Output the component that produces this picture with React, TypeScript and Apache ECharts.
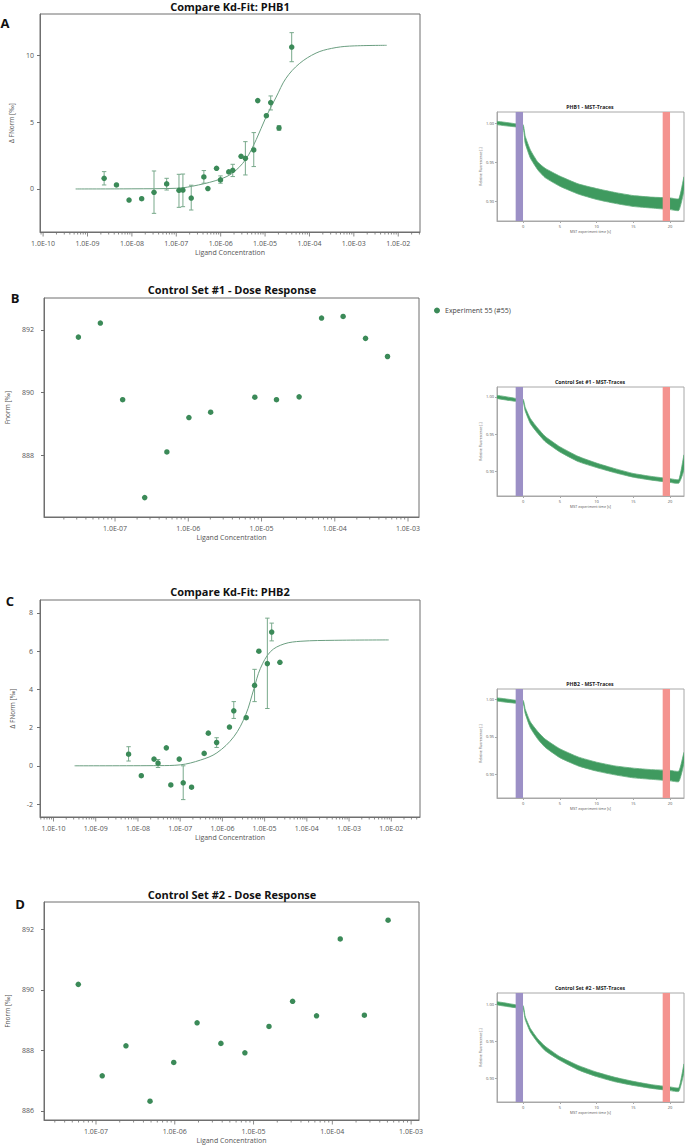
import React, { useEffect, useRef } from 'react';
import * as echarts from 'echarts';

// ---------- Panel A: Compare Kd-Fit: PHB1 ----------
const phb1Conc = [2.37e-9, 4.49e-9, 8.63e-9, 1.66e-8, 3.15e-8, 6.07e-8, 1.15e-7, 1.41e-7, 2.17e-7, 4.18e-7, 5.15e-7, 8.07e-7, 9.9e-7, 1.52e-6, 1.87e-6, 2.88e-6, 3.6e-6, 5.56e-6, 6.84e-6, 1.07e-5, 1.34e-5, 2.06e-5, 3.98e-5];
const phb1Resp = [0.8, 0.3, -0.83, -0.73, -0.25, 0.38, -0.1, -0.08, -0.68, 0.9, 0.03, 1.55, 0.68, 1.28, 1.4, 2.45, 2.3, 2.93, 6.63, 5.5, 6.48, 4.58, 10.65];
const phb1ErrLow = [0.3, null, null, null, -1.83, -0.08, -1.38, -1.33, -1.58, 0.43, null, null, 0.43, null, 0.93, null, 1.05, 1.68, null, null, 5.93, 4.4, 9.55];
const phb1ErrHigh = [1.3, null, null, null, 1.35, 0.8, 1.1, 1.12, 0.28, 1.38, null, null, 0.98, null, 1.85, null, 3.55, 4.23, null, null, 6.98, 4.75, 11.73];
const phb1FitConc = [5.4e-10, 1e-8, 1e-7, 3.16e-7, 1e-6, 1.86e-6, 3.63e-6, 6.31e-6, 1.05e-5, 1.78e-5, 2.95e-5, 5.89e-5, 1.41e-4, 3.16e-4, 7.94e-4, 5.5e-3];
const phb1FitResp = [0, 0.01, 0.05, 0.3, 0.75, 1.2, 2.2, 3.7, 5.4, 6.9, 8.3, 9.4, 10.2, 10.55, 10.72, 10.78];

// ---------- Panel B: Control Set #1 ----------
const ctrl1Conc = [3.16e-8, 6.3e-8, 1.27e-7, 2.54e-7, 5.1e-7, 1.02e-6, 2.02e-6, 8.1e-6, 1.6e-5, 3.26e-5, 6.6e-5, 1.3e-4, 2.63e-4, 5.25e-4];
const ctrl1Resp = [891.77, 892.22, 889.77, 886.64, 888.1, 889.2, 889.37, 889.85, 889.77, 889.86, 892.38, 892.43, 891.73, 891.15];

// ---------- Panel C: Compare Kd-Fit: PHB2 ----------
const phb2Conc = [6.0e-9, 1.2e-8, 2.4e-8, 2.99e-8, 4.7e-8, 6.0e-8, 9.5e-8, 1.18e-7, 1.86e-7, 3.7e-7, 4.64e-7, 7.3e-7, 1.47e-6, 1.86e-6, 3.66e-6, 5.78e-6, 7.3e-6, 1.16e-5, 1.47e-5, 2.3e-5];
const phb2Resp = [0.61, -0.52, 0.35, 0.14, 0.94, -1.0, 0.35, -0.89, -1.12, 0.65, 1.71, 1.22, 2.03, 2.88, 2.52, 4.21, 6.0, 5.35, 7.0, 5.42];
const phb2ErrLow = [0.25, null, null, -0.09, null, null, null, -1.77, null, null, null, 0.96, null, 2.48, null, 3.36, null, 3.0, 6.54, null];
const phb2ErrHigh = [1.0, null, null, 0.33, null, null, null, 0.0, null, null, null, 1.47, null, 3.36, null, 5.05, null, 7.73, 7.47, null];
const phb2FitConc = [3.16e-10, 3.16e-8, 1e-7, 3.02e-7, 7.41e-7, 1.86e-6, 3.55e-6, 5.62e-6, 7.94e-6, 1.38e-5, 2.88e-5, 7.24e-5, 4.47e-4, 8.7e-3];
const phb2FitResp = [0, 0.01, 0.05, 0.3, 0.68, 1.52, 2.66, 4.06, 5.1, 5.98, 6.38, 6.52, 6.57, 6.59];

// ---------- Panel D: Control Set #2 ----------
const ctrl2Conc = [5.96e-8, 1.2e-7, 2.4e-7, 4.85e-7, 9.7e-7, 1.92e-6, 3.85e-6, 7.76e-6, 1.57e-5, 3.13e-5, 6.3e-5, 1.26e-4, 2.55e-4, 5.1e-4];
const ctrl2Resp = [890.18, 887.16, 888.15, 886.32, 887.6, 888.91, 888.23, 887.92, 888.79, 889.62, 889.14, 891.68, 889.16, 892.3];

// ---------- MST traces (band of traces: upper / lower envelope) ----------
const traceTime = [-3.54, -1, 0, 0.3, 1, 2, 3, 5, 7.5, 10, 12.5, 15, 17.5, 20, 21.2, 21.9];
const phb1TraceUpper = [1.002, 0.999, 0.998, 0.983, 0.9655, 0.95, 0.942, 0.932, 0.922, 0.916, 0.911, 0.907, 0.905, 0.904, 0.903, 0.931];
const phb1TraceLower = [0.998, 0.995, 0.994, 0.974, 0.955, 0.94, 0.93, 0.919, 0.909, 0.902, 0.897, 0.893, 0.891, 0.889, 0.888, 0.914];
const ctrl1TraceUpper = [1.002, 0.998, 0.997, 0.986, 0.971, 0.958, 0.947, 0.933, 0.92, 0.911, 0.9035, 0.897, 0.893, 0.89, 0.889, 0.922];
const ctrl1TraceLower = [0.998, 0.994, 0.993, 0.981, 0.964, 0.951, 0.94, 0.926, 0.913, 0.905, 0.898, 0.892, 0.888, 0.885, 0.884, 0.902];
const phb2TraceUpper = [1.002, 0.999, 0.999, 0.987, 0.97, 0.957, 0.947, 0.934, 0.923, 0.916, 0.911, 0.908, 0.906, 0.905, 0.904, 0.929];
const phb2TraceLower = [0.998, 0.995, 0.995, 0.981, 0.962, 0.947, 0.936, 0.922, 0.911, 0.904, 0.899, 0.895, 0.893, 0.891, 0.89, 0.915];
const ctrl2TraceUpper = [1.003, 0.999, 0.998, 0.983, 0.967, 0.953, 0.943, 0.929, 0.917, 0.908, 0.901, 0.8955, 0.891, 0.888, 0.887, 0.919];
const ctrl2TraceLower = [0.999, 0.995, 0.994, 0.979, 0.962, 0.948, 0.937, 0.924, 0.911, 0.902, 0.895, 0.89, 0.886, 0.883, 0.882, 0.908];
const coldRegion = [-1, 0];
const hotRegion = [19, 20];

// ---------- styles ----------
const FONT = '"Open Sans", "Noto Sans", "DejaVu Sans", sans-serif';
const GREEN = '#3b8a58';
const FIT = '#6b9e80';
const ERR = '#78a98b';
const BOX = '#6f6f6f';
const LBL = '#555555';
const TRACE = '#3f9a5f';
const TRACE_EDGE = '#62ad7c';
const TBOX = '#a8a8a8';
const COLD = '#9c90c6';
const HOT = '#f4938f';

function fmtExp(v: number): string {
  const s = v.toExponential(1);
  const [m, e] = s.split('e');
  const n = parseInt(e, 10);
  return m + 'E' + (n < 0 ? '-' : '+') + String(Math.abs(n)).padStart(2, '0');
}

function logTicks(min: number, max: number): number[][] {
  const out: number[][] = [];
  const k0 = Math.floor(Math.log10(min));
  const k1 = Math.ceil(Math.log10(max));
  for (let k = k0; k <= k1; k++) {
    for (let m = 1; m <= 9; m++) {
      const v = m * Math.pow(10, k);
      if (v >= min && v <= max) out.push([v, m === 1 ? 1 : 0]);
    }
  }
  return out;
}

const mainPanels = [
  {
    name: 'PHB1', title: 'Compare Kd-Fit: PHB1', letter: 'A', titlePos: [230, 6], letterPos: [5, 23],
    grid: { left: 40, top: 14, width: 380, height: 218 },
    xMin: Math.pow(10, -10.07), xMax: Math.pow(10, -1.51), yMin: -3.23, yMax: 13.13, yStep: 5,
    yName: 'Δ FNorm [‰]', yNameGap: 15.5, yLabelMargin: 6,
    conc: phb1Conc, resp: phb1Resp, lo: phb1ErrLow, hi: phb1ErrHigh, fitX: phb1FitConc, fitY: phb1FitResp,
  },
  {
    name: 'Experiment 55 (#55)', title: 'Control Set #1 - Dose Response', letter: 'B', titlePos: [232, 289], letterPos: [15, 298],
    grid: { left: 44, top: 298, width: 375, height: 219 },
    xMin: Math.pow(10, -7.97), xMax: Math.pow(10, -2.85), yMin: 886.02, yMax: 893.02, yStep: 2,
    yName: 'Fnorm [‰]', yNameGap: 17.5, yLabelMargin: 10,
    conc: ctrl1Conc, resp: ctrl1Resp, lo: null, hi: null, fitX: null, fitY: null,
  },
  {
    name: 'PHB2', title: 'Compare Kd-Fit: PHB2', letter: 'C', titlePos: [230, 591], letterPos: [10, 601],
    grid: { left: 40, top: 600, width: 380, height: 217 },
    xMin: Math.pow(10, -10.32), xMax: Math.pow(10, -1.32), yMin: -2.68, yMax: 8.68, yStep: 2,
    yName: 'Δ FNorm [‰]', yNameGap: 14.5, yLabelMargin: 7,
    conc: phb2Conc, resp: phb2Resp, lo: phb2ErrLow, hi: phb2ErrHigh, fitX: phb2FitConc, fitY: phb2FitResp,
  },
  {
    name: 'Control Set #2', title: 'Control Set #2 - Dose Response', letter: 'D', titlePos: [232, 894], letterPos: [20, 904],
    grid: { left: 44, top: 902, width: 375, height: 218 },
    xMin: Math.pow(10, -7.66), xMax: Math.pow(10, -2.9), yMin: 885.7, yMax: 892.9, yStep: 2,
    yName: 'Fnorm [‰]', yNameGap: 17.5, yLabelMargin: 10,
    conc: ctrl2Conc, resp: ctrl2Resp, lo: null, hi: null, fitX: null, fitY: null,
  },
];

const tracePanels = [
  { title: 'PHB1 - MST-Traces', titlePos: [590, 107], grid: { left: 497, top: 112, width: 187, height: 109 }, yMin: 0.8744, yMax: 1.0141, upper: phb1TraceUpper, lower: phb1TraceLower },
  { title: 'Control Set #1 - MST-Traces', titlePos: [590, 382], grid: { left: 497, top: 387, width: 187, height: 109 }, yMin: 0.8667, yMax: 1.0133, upper: ctrl1TraceUpper, lower: ctrl1TraceLower },
  { title: 'PHB2 - MST-Traces', titlePos: [590, 684], grid: { left: 497, top: 689, width: 187, height: 109 }, yMin: 0.868, yMax: 1.014, upper: phb2TraceUpper, lower: phb2TraceLower },
  { title: 'Control Set #2 - MST-Traces', titlePos: [590, 988], grid: { left: 497, top: 993, width: 187, height: 109 }, yMin: 0.8676, yMax: 1.0149, upper: ctrl2TraceUpper, lower: ctrl2TraceLower },
];
const traceXMin = -3.54;
const traceXMax = 21.9;

function buildOption(): any {
  const grid: any[] = [];
  const xAxis: any[] = [];
  const yAxis: any[] = [];
  const series: any[] = [];
  const graphic: any[] = [];

  mainPanels.forEach((p, i) => {
    grid.push({ ...p.grid, show: true, borderColor: BOX, borderWidth: 1, outerBoundsMode: 'none' });
    xAxis.push({
      type: 'log', logBase: 10, gridIndex: i, min: p.xMin, max: p.xMax, splitNumber: 10,
      axisLine: { show: true, onZero: false, lineStyle: { color: BOX, width: 1 } },
      axisTick: { show: false },
      axisLabel: { fontSize: 7, color: LBL, margin: 8, fontFamily: FONT, showMinLabel: false, showMaxLabel: false, formatter: fmtExp },
      splitLine: { show: false },
      name: 'Ligand Concentration', nameLocation: 'middle', nameGap: 16.5,
      nameTextStyle: { fontSize: 7, color: LBL, fontFamily: FONT },
    });
    yAxis.push({
      type: 'value', gridIndex: i, min: p.yMin, max: p.yMax, minInterval: p.yStep, maxInterval: p.yStep, splitNumber: 4,
      axisLine: { show: true, onZero: false, lineStyle: { color: BOX, width: 1 } },
      axisTick: { show: true, length: 3, lineStyle: { color: BOX } },
      axisLabel: { fontSize: 7, color: LBL, margin: p.yLabelMargin, fontFamily: FONT, showMinLabel: false, showMaxLabel: false },
      splitLine: { show: false },
      name: p.yName, nameLocation: 'middle', nameGap: p.yNameGap,
      nameTextStyle: { fontSize: 6.5, color: LBL, fontFamily: FONT },
    });
    // log ticks (major + minor) drawn through the axis scale
    series.push({
      type: 'custom', xAxisIndex: i, yAxisIndex: i, silent: true, clip: false, z: 1,
      data: logTicks(p.xMin, p.xMax).map((t) => [t[0], p.yMin, t[1]]),
      encode: { x: 0, y: 1 },
      renderItem: (_params: any, api: any) => {
        const pt = api.coord([api.value(0), api.value(1)]);
        const len = api.value(2) ? 4.5 : 2.5;
        return { type: 'line', shape: { x1: pt[0], y1: pt[1], x2: pt[0], y2: pt[1] + len }, style: { stroke: BOX, lineWidth: 0.8 } };
      },
    });
    if (p.fitX && p.fitY) {
      const fy = p.fitY;
      series.push({
        type: 'line', name: p.name + ' fit', xAxisIndex: i, yAxisIndex: i, showSymbol: false, smooth: 0.35, z: 2,
        lineStyle: { color: FIT, width: 1 },
        data: p.fitX.map((c, k) => [c, fy[k]]),
      });
    }
    if (p.lo && p.hi) {
      const lo = p.lo;
      const hi = p.hi;
      const errData: any[] = [];
      p.conc.forEach((c, k) => {
        if (lo[k] != null && hi[k] != null) errData.push([c, lo[k], hi[k]]);
      });
      series.push({
        type: 'custom', xAxisIndex: i, yAxisIndex: i, silent: true, z: 3,
        data: errData, encode: { x: 0, y: [1, 2] },
        renderItem: (_params: any, api: any) => {
          const x = api.value(0);
          const pl = api.coord([x, api.value(1)]);
          const ph = api.coord([x, api.value(2)]);
          const w = 2.2;
          const st = { stroke: ERR, lineWidth: 1 };
          return {
            type: 'group',
            children: [
              { type: 'line', shape: { x1: pl[0], y1: pl[1], x2: ph[0], y2: ph[1] }, style: st },
              { type: 'line', shape: { x1: pl[0] - w, y1: pl[1], x2: pl[0] + w, y2: pl[1] }, style: st },
              { type: 'line', shape: { x1: ph[0] - w, y1: ph[1], x2: ph[0] + w, y2: ph[1] }, style: st },
            ],
          };
        },
      });
    }
    series.push({
      type: 'scatter', name: p.name, xAxisIndex: i, yAxisIndex: i, symbol: 'circle', symbolSize: 5.5, z: 5,
      itemStyle: { color: GREEN, opacity: 1 },
      data: p.conc.map((c, k) => [c, p.resp[k]]),
    });
    graphic.push({
      type: 'text', x: p.titlePos[0], y: p.titlePos[1], silent: true,
      style: { text: p.title, fontSize: 11, fontWeight: 'bold', fontFamily: FONT, fill: '#111', align: 'center', verticalAlign: 'middle' },
    });
    graphic.push({
      type: 'text', x: p.letterPos[0], y: p.letterPos[1], silent: true,
      style: { text: p.letter, fontSize: 13, fontWeight: 'bold', fontFamily: FONT, fill: '#111', align: 'center', verticalAlign: 'middle' },
    });
  });

  tracePanels.forEach((t, j) => {
    const i = mainPanels.length + j;
    grid.push({ ...t.grid, show: true, borderColor: TBOX, borderWidth: 1, outerBoundsMode: 'none' });
    xAxis.push({
      type: 'value', gridIndex: i, min: traceXMin, max: traceXMax, minInterval: 5, maxInterval: 5,
      axisLine: { show: true, onZero: false, lineStyle: { color: TBOX } },
      axisTick: { show: true, length: 2, lineStyle: { color: TBOX } },
      axisLabel: { fontSize: 4, color: LBL, margin: 3.5, fontFamily: FONT, showMinLabel: false, showMaxLabel: false },
      splitLine: { show: false },
      name: 'MST experiment time [s]', nameLocation: 'middle', nameGap: 8.5,
      nameTextStyle: { fontSize: 3.6, color: LBL, fontFamily: FONT },
    });
    yAxis.push({
      type: 'value', gridIndex: i, min: t.yMin, max: t.yMax, minInterval: 0.05, maxInterval: 0.05,
      axisLine: { show: true, onZero: false, lineStyle: { color: TBOX } },
      axisTick: { show: true, length: 2, lineStyle: { color: TBOX } },
      axisLabel: { fontSize: 4, color: LBL, margin: 3, fontFamily: FONT, showMinLabel: false, showMaxLabel: false, formatter: (v: number) => v.toFixed(2) },
      splitLine: { show: false },
      name: 'Relative Fluorescence [-]', nameLocation: 'middle', nameGap: 10,
      nameTextStyle: { fontSize: 3.4, color: LBL, fontFamily: FONT },
    });
    const up = t.upper;
    const lo = t.lower;
    series.push({
      type: 'custom', xAxisIndex: i, yAxisIndex: i, silent: true, clip: true, z: 2,
      data: traceTime.map((tt, k) => [tt, lo[k], up[k]]),
      encode: { x: 0, y: [1, 2] },
      renderItem: (params: any, api: any) => {
        if (params.dataIndex !== 0) return null;
        const top = traceTime.map((tt, k) => api.coord([tt, up[k]]));
        const bot = traceTime.map((tt, k) => api.coord([tt, lo[k]])).reverse();
        return {
          type: 'polygon',
          shape: { points: top.concat(bot), smooth: 0.15 },
          style: { fill: TRACE, stroke: TRACE_EDGE, lineWidth: 0.8 },
        };
      },
    });
    series.push({
      type: 'custom', xAxisIndex: i, yAxisIndex: i, silent: true, clip: true, z: 3,
      data: [[coldRegion[0], coldRegion[1], 0], [hotRegion[0], hotRegion[1], 1]],
      encode: { x: [0, 1] },
      renderItem: (_params: any, api: any) => {
        const a = api.coord([api.value(0), t.yMax]);
        const b = api.coord([api.value(1), t.yMin]);
        return {
          type: 'rect',
          shape: { x: a[0], y: a[1], width: b[0] - a[0], height: b[1] - a[1] },
          style: { fill: api.value(2) ? HOT : COLD },
        };
      },
    });
    graphic.push({
      type: 'text', x: t.titlePos[0], y: t.titlePos[1], silent: true,
      style: { text: t.title, fontSize: 5.2, fontWeight: 'bold', fontFamily: FONT, fill: '#222', align: 'center', verticalAlign: 'middle' },
    });
  });

  return {
    animation: false,
    backgroundColor: '#ffffff',
    textStyle: { fontFamily: FONT },
    legend: {
      data: ['Experiment 55 (#55)'],
      left: 429, top: 302, icon: 'circle', itemWidth: 6, itemHeight: 6, selectedMode: false,
      textStyle: { fontSize: 7, color: '#444', fontFamily: FONT },
    },
    grid, xAxis, yAxis, series, graphic,
  };
}

export default function App() {
  const ref = useRef<HTMLDivElement>(null);
  useEffect(() => {
    if (!ref.current) return;
    const chart = echarts.init(ref.current, undefined, { renderer: 'svg' });
    chart.setOption(buildOption());
    return () => chart.dispose();
  }, []);
  return (
    <div
      ref={ref}
      style={{ position: 'absolute', left: 0, top: 0, width: 689, height: 1148, background: '#fff' }}
    />
  );
}
